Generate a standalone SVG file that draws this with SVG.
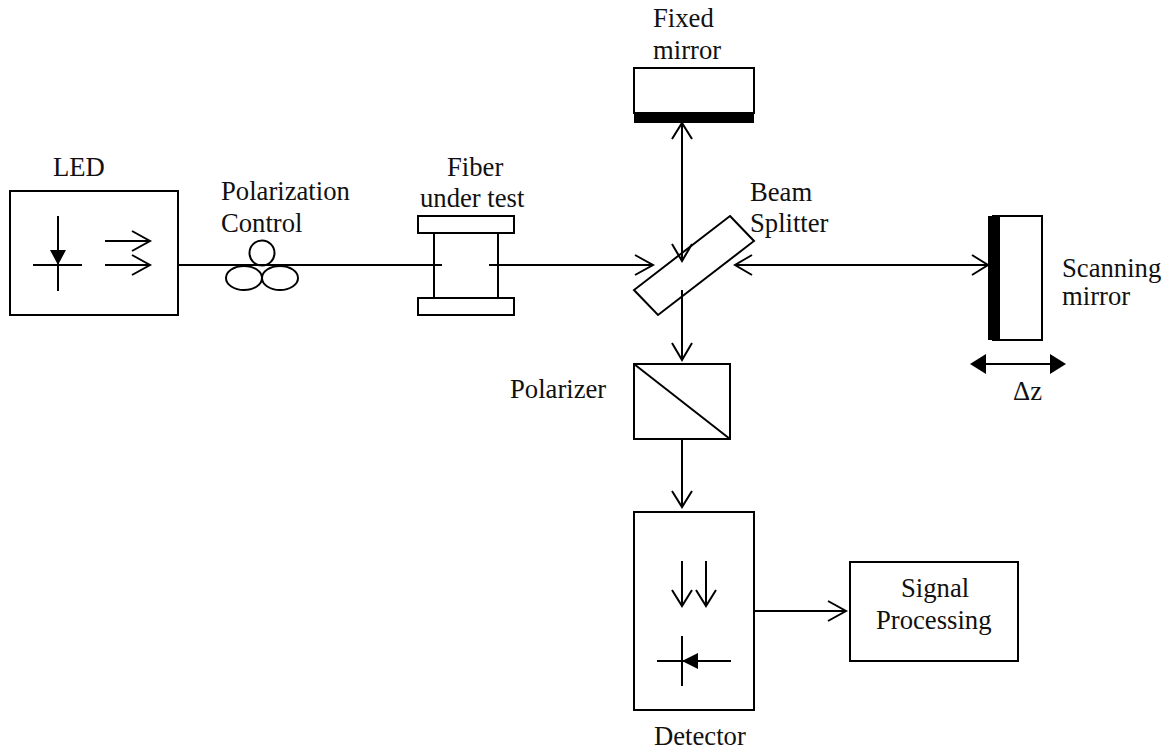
<svg xmlns="http://www.w3.org/2000/svg" width="1172" height="751" viewBox="0 0 1172 751">
<style>
.s{fill:none;stroke:#000;stroke-width:2}
.k{fill:#000;stroke:none}
text{font-family:"Liberation Serif","Times New Roman",serif;font-size:26.67px;fill:#111}
</style>
<rect width="1172" height="751" fill="#fff"/>
<g id="connectors">
<path class="s" d="M178 265H442M489 265H653M635 255L653 265L635 275"/>
<path class="s" d="M682 123V261M672 139L682 123L692 139M672 244L682 261L692 244"/>
<path class="s" d="M735 265H988M752 255L735 265L752 275M972 255L988 265L972 275"/>
<path class="s" d="M682 290V360M672 343L682 360L692 343"/>
<path class="s" d="M682 439V507M672 491L682 507L692 491"/>
<path class="s" d="M754 611H846M828 601L846 611L828 621"/>
<path class="s" d="M986 364H1050"/>
<path class="k" d="M970 364L986 354V374ZM1066 364L1050 354V374Z"/>
</g>
<g id="led">
<rect class="s" x="10" y="191" width="168" height="124"/>
<path class="s" d="M58 216V291M33 265H82M105 241H150M132 231L150 241L132 251M105 265H150M132 255L150 265L132 275"/>
<path class="k" d="M58 265L50 250H66Z"/>
<text x="53" y="176">LED</text>
</g>
<g id="polarization-control">
<circle class="s" cx="262" cy="253" r="12.5"/>
<ellipse class="s" cx="244" cy="278" rx="18" ry="12"/>
<ellipse class="s" cx="280" cy="278" rx="18" ry="12"/>
<text x="221" y="200">Polarization</text>
<text x="221" y="232">Control</text>
</g>
<g id="fiber-under-test">
<rect class="s" x="418" y="216" width="96" height="17"/>
<rect class="s" x="418" y="298" width="96" height="17"/>
<path class="s" d="M434 233V298M498 233V298"/>
<text x="447" y="176">Fiber</text>
<text x="420" y="207">under test</text>
</g>
<g id="fixed-mirror">
<rect class="s" x="634" y="68" width="120" height="45"/>
<rect class="k" x="634" y="112" width="120" height="11"/>
<text x="653" y="27">Fixed</text>
<text x="653" y="59">mirror</text>
</g>
<g id="beam-splitter">
<path class="s" d="M730 216L754 241L658 315L634 290Z"/>
<text x="750" y="201">Beam</text>
<text x="750" y="232">Splitter</text>
</g>
<g id="scanning-mirror">
<rect class="s" x="993" y="216" width="49" height="124"/>
<rect class="k" x="988" y="216" width="12" height="124"/>
<text x="1062" y="277">Scanning</text>
<text x="1062" y="305">mirror</text>
<text x="1013" y="400">Δz</text>
</g>
<g id="polarizer">
<rect class="s" x="634" y="364" width="96" height="75"/>
<path class="s" d="M634 364L730 439"/>
<text x="510" y="398">Polarizer</text>
</g>
<g id="detector">
<rect class="s" x="634" y="512" width="120" height="198"/>
<path class="s" d="M682 561V606M672 590L682 606L692 590M706 561V606M696 590L706 606L716 590M682 636V686M657 661H731"/>
<path class="k" d="M682 661L698 653V669Z"/>
<text x="654" y="745">Detector</text>
</g>
<g id="signal-processing">
<rect class="s" x="850" y="562" width="168" height="99"/>
<text x="901" y="597">Signal</text>
<text x="876" y="629">Processing</text>
</g>
</svg>
